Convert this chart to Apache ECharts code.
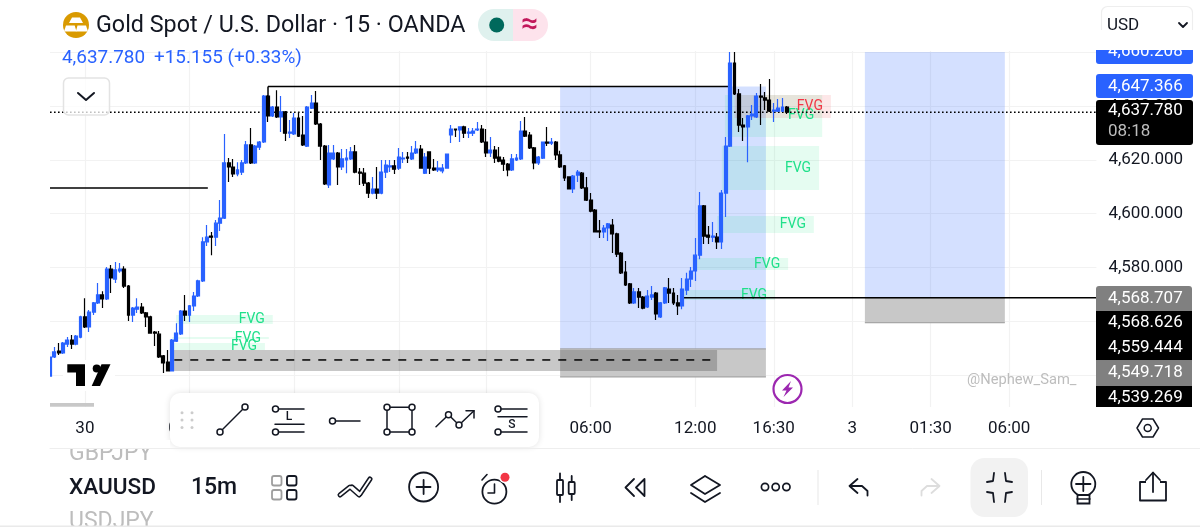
<!DOCTYPE html>
<html><head><meta charset="utf-8">
<style>html,body{margin:0;padding:0;background:#fff}#c{width:1200px;height:527px}</style>
<script src="https://cdn.jsdelivr.net/npm/echarts@6/dist/echarts.min.js"></script>
</head><body><div id="c"></div>
<script>
const opens=[4539.6,4546.7,4548.9,4548.2,4551.5,4553.0,4551.5,4554.1,4561.6,4557.9,4563.4,4566.8,4569.8,4568.3,4579.4,4575.7,4578.7,4579.4,4573.1,4562.3,4564.5,4565.3,4563.1,4561.6,4556.0,4555.2,4547.1,4544.8,4541.5,4552.6,4555.3,4563.8,4562.3,4565.7,4569.4,4575.0,4589.5,4591.7,4591.3,4596.5,4598.4,4618.9,4617.4,4614.8,4615.5,4618.9,4625.6,4618.9,4624.8,4626.7,4643.8,4636.4,4639.7,4636.0,4637.9,4630.0,4629.7,4635.6,4629.3,4625.2,4639.3,4641.2,4633.4,4625.2,4610.7,4620.4,4622.6,4617.4,4620.0,4620.4,4623.0,4615.5,4615.1,4611.4,4607.7,4609.2,4607.7,4615.5,4617.4,4617.8,4617.0,4620.4,4621.1,4620.4,4622.6,4624.1,4615.1,4623.0,4617.0,4616.3,4615.9,4617.0,4629.3,4631.5,4631.2,4632.3,4630.0,4630.0,4631.2,4631.5,4626.7,4622.6,4623.7,4621.1,4620.0,4618.5,4616.3,4620.0,4620.4,4630.8,4629.3,4624.5,4618.9,4620.7,4626.7,4626.3,4626.7,4621.9,4617.8,4613.7,4609.2,4614.4,4615.1,4609.6,4605.1,4601.4,4593.6,4593.2,4594.7,4595.8,4592.5,4585.4,4578.3,4573.9,4566.8,4570.9,4569.0,4565.3,4569.0,4570.5,4561.6,4566.8,4572.0,4570.5,4566.8,4565.7,4571.6,4575.7,4578.7,4584.6,4602.9,4592.1,4591.3,4591.3,4589.5,4607.7,4625.2,4656.1,4644.6,4633.0,4632.3,4636.4,4636.0,4643.8,4643.1,4642.3,4638.2,4638.2,4638.2,4639.7];
const closes=[4546.7,4548.6,4548.2,4551.9,4553.0,4551.5,4554.5,4561.6,4557.9,4563.4,4566.8,4569.8,4568.3,4579.4,4576.1,4579.1,4579.4,4573.1,4562.3,4564.9,4565.3,4563.1,4561.6,4555.6,4555.6,4546.7,4544.5,4541.5,4553.0,4555.6,4563.8,4562.3,4565.7,4569.4,4575.0,4589.5,4591.3,4591.3,4596.5,4598.4,4618.9,4617.4,4614.8,4616.3,4618.9,4625.6,4618.9,4625.2,4626.7,4643.8,4636.4,4639.7,4636.0,4637.9,4630.0,4630.4,4635.6,4628.9,4625.6,4639.7,4641.2,4633.4,4625.2,4611.1,4622.6,4622.6,4617.4,4620.4,4620.7,4623.0,4615.5,4615.1,4611.4,4607.7,4609.2,4607.7,4615.5,4618.1,4617.8,4616.6,4621.1,4620.7,4620.7,4622.6,4624.1,4617.0,4621.1,4617.0,4616.3,4617.0,4617.0,4622.2,4631.5,4631.2,4632.3,4630.0,4630.4,4630.8,4631.5,4626.7,4622.6,4623.7,4620.7,4619.6,4618.5,4616.3,4620.4,4620.7,4630.8,4628.9,4624.5,4618.9,4621.1,4626.7,4626.3,4626.7,4621.9,4617.4,4613.3,4609.2,4614.0,4615.5,4609.6,4605.1,4601.0,4593.2,4593.2,4594.7,4596.2,4592.5,4585.0,4578.0,4573.5,4566.8,4570.9,4569.0,4564.9,4569.4,4569.8,4562.7,4566.8,4572.4,4570.5,4566.8,4565.7,4572.0,4575.7,4578.7,4584.6,4602.9,4591.7,4591.3,4591.7,4589.5,4607.7,4625.2,4656.1,4644.6,4633.0,4632.3,4636.4,4637.1,4643.8,4643.4,4642.3,4638.2,4638.6,4639.3,4639.7,4637.8];
const lows=[4539.6,4546.3,4547.4,4547.8,4550.4,4549.7,4551.1,4553.7,4557.5,4556.0,4562.3,4566.4,4564.9,4567.9,4570.5,4574.2,4578.0,4572.4,4560.1,4559.7,4563.1,4562.7,4557.9,4555.6,4550.8,4546.3,4540.7,4541.5,4541.5,4552.3,4554.9,4560.1,4559.7,4563.8,4569.0,4574.6,4588.0,4584.6,4588.0,4593.6,4598.0,4611.8,4613.7,4614.0,4614.4,4618.5,4618.5,4618.5,4623.7,4626.3,4634.1,4636.0,4635.6,4630.4,4627.1,4628.2,4629.3,4628.6,4625.2,4624.8,4639.0,4633.0,4620.0,4610.7,4609.6,4620.0,4610.7,4616.3,4615.1,4620.0,4615.1,4610.7,4610.3,4605.9,4607.3,4605.5,4607.3,4613.3,4615.5,4614.8,4616.3,4618.9,4618.9,4620.0,4622.2,4617.0,4614.8,4614.8,4615.9,4615.5,4615.1,4617.0,4626.3,4628.6,4626.7,4628.2,4628.2,4628.9,4630.8,4626.3,4621.1,4621.1,4618.9,4619.2,4615.9,4614.0,4615.9,4619.6,4620.0,4628.6,4624.1,4616.6,4618.1,4620.4,4625.2,4625.6,4620.0,4617.0,4612.2,4609.2,4607.7,4611.8,4609.2,4604.7,4600.6,4593.2,4591.0,4591.0,4589.9,4585.4,4583.9,4577.6,4573.1,4566.4,4566.4,4564.9,4564.5,4564.9,4567.9,4560.5,4561.2,4566.4,4566.8,4566.0,4562.3,4564.5,4569.8,4572.7,4575.0,4583.1,4588.7,4588.7,4589.5,4586.9,4586.9,4598.8,4624.8,4644.2,4630.4,4627.1,4619.2,4634.9,4635.6,4633.0,4638.6,4637.9,4634.1,4637.9,4637.9,4637.1];
const highs=[4548.6,4550.4,4551.9,4552.3,4554.1,4554.9,4554.9,4562.0,4568.6,4564.2,4567.2,4574.2,4571.2,4580.2,4580.9,4582.0,4581.7,4580.5,4573.5,4565.3,4568.6,4566.8,4563.4,4562.0,4556.4,4556.4,4547.4,4549.3,4553.4,4559.3,4564.2,4569.8,4566.0,4570.9,4575.4,4591.3,4595.8,4593.2,4597.7,4605.1,4629.7,4620.7,4620.4,4619.2,4620.0,4627.1,4631.9,4625.6,4627.1,4644.2,4644.2,4640.1,4646.0,4643.8,4638.2,4634.9,4637.5,4637.9,4636.4,4640.1,4644.2,4645.7,4633.8,4625.6,4625.6,4625.6,4623.0,4624.1,4624.1,4624.8,4625.6,4617.0,4617.0,4611.8,4613.7,4617.4,4620.0,4620.0,4620.0,4620.0,4624.5,4623.0,4623.0,4625.2,4627.1,4625.6,4622.6,4623.0,4620.4,4619.6,4618.5,4622.2,4633.0,4631.5,4632.3,4632.7,4631.9,4631.9,4634.1,4633.0,4631.5,4628.6,4625.2,4624.8,4621.1,4618.9,4622.2,4622.2,4634.5,4636.0,4630.4,4624.8,4621.5,4626.7,4632.3,4628.2,4627.1,4623.4,4618.1,4614.0,4614.4,4616.3,4615.5,4613.7,4607.7,4601.8,4597.7,4595.8,4596.6,4598.0,4592.9,4585.8,4582.4,4574.2,4572.4,4572.4,4569.4,4571.6,4573.1,4570.9,4567.2,4572.7,4576.1,4572.4,4569.8,4576.1,4578.0,4580.2,4591.0,4608.1,4603.3,4595.4,4596.9,4592.8,4608.8,4628.6,4660.2,4660.2,4646.4,4635.6,4636.7,4640.5,4644.9,4648.3,4645.3,4650.1,4641.2,4642.7,4643.1,4640.1];

const tickIndexes=[8,32,56,80,100,124,148,166,184,202,220];
const tickLabels=['30','06:00','12:00','18:00','1','06:00','12:00','16:30','3','01:30','06:00'];
const axisPrices=[4540,4560,4580,4600,4620,4640,4660];

const blueZones=[[117,164.2,4647.366,4549.718],[186.9,219,4660.208,4568.707]];
const solidGreyZones=[[117,164.2,4549.718,4539.269],[186.9,219,4568.707,4559.444]];
const tintGreyZones=[[28,153,4549.3,4541.5]];
const fvgGreen=[[154.8,177.1,4644.2,4628.6],[154.1,176.4,4625.2,4608.8],[153,175.2,4599.2,4592.8],[148.4,169.3,4583.5,4579.1],[145.2,166.3,4571.6,4567.9],[28.9,51.1,4562.3,4559.0],[28,50.2,4554.1,4553.4],[28,49.3,4551.9,4549.3]];
const fvgRed=[[157,179.1,4644.2,4635.6]];
const solidLines=[[0,4609.6,36.2,4609.6],[50,4647.366,156,4647.366],[50,4647.366,50,4643.4],[144.5,4568.707,240,4568.707]];
const dashedLines=[[28.5,4545.6,153,4545.6]];
const dottedLines=[[0,4637.78,240,4637.78]];

const categories=Array.from({length:241},(_,i)=>{const k=tickIndexes.indexOf(i);return k<0?'':tickLabels[k];});
const candles=opens.map((o,i)=>[o,closes[i],lows[i],highs[i]]);

function zoneSeries(name,rows,fill,z,label,labelColor,edge){
  return {name,type:'custom',xAxisIndex:1,yAxisIndex:0,z,silent:true,clip:true,data:rows,
    encode:{x:[0,1],y:[2,3]},
    renderItem(p,api){
      const a=api.coord([api.value(0),api.value(2)]),b=api.coord([api.value(1),api.value(3)]);
      const kids=[{type:'rect',shape:{x:a[0],y:a[1],width:b[0]-a[0],height:b[1]-a[1]},style:{fill}}];
      if(edge){
        kids.push({type:'line',shape:{x1:a[0],y1:a[1],x2:b[0],y2:a[1]},style:{stroke:edge,lineWidth:1}});
        kids.push({type:'line',shape:{x1:a[0],y1:b[1],x2:b[0],y2:b[1]},style:{stroke:edge,lineWidth:1}});
      }
      if(label)kids.push({type:'text',z2:5,style:{text:label,x:b[0]-21,y:(a[1]+b[1])/2,fill:labelColor,font:'14px Roboto',align:'center',verticalAlign:'middle'}});
      return {type:'group',children:kids};
    }};
}
function lineSeries(name,rows,color,width,dash,z){
  return {name,type:'custom',xAxisIndex:1,yAxisIndex:0,z,silent:true,clip:true,data:rows,
    encode:{x:[0,2],y:[1,3]},
    renderItem(p,api){
      const a=api.coord([api.value(0),api.value(1)]),b=api.coord([api.value(2),api.value(3)]);
      return {type:'line',shape:{x1:a[0],y1:a[1],x2:b[0],y2:b[1]},style:{stroke:color,lineWidth:width,lineDash:dash}};
    }};
}

const INK='#131722',Z=100,g=[];
const R=(x,y,w,h,fill,r,stroke,lw,z)=>g.push({type:'rect',z:z||Z,shape:{x,y,width:w,height:h,r:r||0},style:{fill:fill||'none',stroke:stroke||null,lineWidth:lw||1}});
const C=(cx,cy,r,fill,stroke,lw,z)=>g.push({type:'circle',z:z||Z,shape:{cx,cy,r},style:{fill:fill||'none',stroke:stroke||null,lineWidth:lw||1}});
const P=(pts,stroke,lw,z)=>g.push({type:'polyline',z:z||Z,shape:{points:pts},style:{fill:'none',stroke:stroke||INK,lineWidth:lw||1.6,lineJoin:'round',lineCap:'round'}});
const G=(pts,fill,z)=>g.push({type:'polygon',z:z||Z,shape:{points:pts},style:{fill}});
const T=(text,x,y,size,fill,align,weight,z)=>g.push({type:'text',z:z||Z,style:{text,x,y,fill,font:(weight||400)+' '+size+'px Roboto',align:align||'left',verticalAlign:'middle'}});

// left edge of the plot
R(0,50,50,357,'#fff',0,null,1,Z-1);

// header
C(76,25,13,'#D99A00');
G([[72,17.5],[80,17.5],[83,23],[69,23]],'#fff');
G([[66,25.5],[74.7,25.5],[76.5,31.5],[64,31.5]],'#fff');
G([[77.5,25.5],[86,25.5],[88,31.5],[75.8,31.5]],'#fff');
T('Gold Spot / U.S. Dollar · 15 · OANDA',96,26.2,23.3,INK);
R(478,9,35,32,'#DFF1EE',[16,0,0,16]);
R(513,9,35,32,'#FDE3EC',[0,16,16,0]);
C(496.7,25,7.5,'#00695C');
T('≈',529.7,25,30,'#C2185B','center',500);
T('4,637.780',62,58.5,18.9,'#2962FF');
T('+15.155 (+0.33%)',154,58.5,18.9,'#2962FF');
R(63.5,78,46,37,'rgba(255,255,255,0.75)',5,'#E3E3E3',1.5);
P([[78,93],[86,100],[94,93]],INK,2);

// USD selector
R(1101.5,6.5,91,37,'#fff',6,'#EEEEEE',1.2);
T('USD',1107,26,17,INK);
P([[1179,23],[1183,27],[1187,23]],INK,1.8);

// price badges
R(1096,40,97,24,'#2962FF',3);
T('4,660.208',1108,52,17,'#fff');
R(1096,30,104,20,'#fff',0,null,1,Z+1);
R(1096,74,97,24,'#2962FF',3);
T('4,647.366',1108,86.5,17,'#fff');
R(1096,100,97,45,'#000',3);
T('4,637.780',1108,111,17,'#fff');
T('08:18',1108,131.5,17,'#bdbdbd');
R(1096,286,96,25,'#808080',[3,3,0,0]);
T('4,568.707',1108,298.7,17,'#fff');
R(1096,311,96,49.5,'#000');
T('4,568.626',1108,322.7,17,'#fff');
T('4,559.444',1108,347.7,17,'#fff');
R(1096,361,96,25,'#808080');
T('4,549.718',1108,372.7,17,'#fff');
R(1096,386,96,21,'#000');
T('4,539.269',1108,397.7,17,'#fff');

// logo, watermark, bolt
R(63,360,52,31,'#fff',0,null,1,Z-1);
G([[67.3,364.3],[85,364.3],[85,386],[76,386],[76,372.5],[67.3,372.5]],'#000');
C(96.7,368.5,4,'#000');
G([[110.5,364.3],[100,386],[91.7,386],[101.5,364.3]],'#000');
T('@Nephew_Sam_',967,380.5,14.7,'#BDBDBD');
C(787.5,389,14,'#fff','#9C27B0',2.2);
G([[791,381],[782,390.5],[786.5,390.5],[783.5,397],[793,387.5],[788.5,387.5]],'#9C27B0');

// slider
R(50,403,44,3.8,'#C8C8C8');

// axis hexagon
P([[1137,428],[1142.5,419],[1153,419],[1158.5,428],[1153,437],[1142.5,437],[1137,428]],INK,1.5);
C(1147.7,428,3.5,null,INK,1.5);

// drawing toolbar
R(170,393,369,54,'#fff',10,null,1);
g[g.length-1].style.shadowBlur=6;g[g.length-1].style.shadowColor='rgba(0,0,0,0.12)';
[182,192].forEach(x=>[412.7,420,427.5].forEach(y=>C(x,y,1.5,'#CCCCCC')));
P([[220,432],[245,407]],INK,1.5);C(220,432,3,'#fff',INK,1.5);C(245,407,3,'#fff',INK,1.5);
P([[275,409],[304,409]],INK,1.5);P([[275,424.3],[304,424.3]],INK,1.5);P([[275,432],[304,432]],INK,1.5);
C(275.5,409,3,'#fff',INK,1.5);C(275.5,432,3,'#fff',INK,1.5);T('L',289,417,12,INK,'center',500);
P([[333,421],[360,421]],INK,1.5);C(332.5,421,3,'#fff',INK,1.5);
R(387,407.3,25,24.7,null,0,INK,1.5);
[[387,407.3],[412,407.3],[387,432],[412,432]].forEach(c=>C(c[0],c[1],3,'#fff',INK,1.5));
P([[436,426.7],[448.5,414.7],[459,425],[474,410.7]],INK,1.5);P([[466,410.7],[474,410.7],[474,418]],INK,1.5);
C(448.5,414.7,3,'#fff',INK,1.5);C(459,425,3,'#fff',INK,1.5);
P([[498,409],[527,409]],INK,1.5);P([[498,416.7],[527,416.7]],INK,1.5);P([[498,432],[527,432]],INK,1.5);
C(498,409,3,'#fff',INK,1.5);C(498,432,3,'#fff',INK,1.5);T('S',512,424.5,12,INK,'center',500);

// bottom panel
R(0,449,1200,78,'#fff',0,null,1,Z-1);
T('GBPJPY',69,454,23,'#BDBDBD');
R(60,440,110,8,'#fff',0,null,1,Z);
P([[50,448.5],[1200,448.5]],'#EEEEEE',1);
T('XAUUSD',69,488,22.6,INK,'left',500);
T('15m',214,488,23,INK,'center',500);
T('USDJPY',69,522.5,23,'#BDBDBD');
R(0,525.5,1200,1.5,'#EAEAEA',0,null,1,Z+1);
R(272,476,9.5,9.5,null,2,'#9E9E9E',1.8);R(287,476,9.5,9.5,null,2,INK,1.8);
R(272,490,9.5,9.5,null,2,'#9E9E9E',1.8);R(287,490,9.5,9.5,null,2,INK,1.8);
P([[340,495],[350,487],[359,495]],INK,5);P([[352,487],[360,494],[370,479]],INK,5);
P([[340,495],[350,487],[359,495]],'#fff',2);P([[352,487],[360,494],[370,479]],'#fff',2);
C(423.6,487,14.5,null,INK,1.8);P([[416.5,487],[430.5,487]],INK,1.8);P([[423.6,480],[423.6,494]],INK,1.8);
C(494.4,491.7,12,null,INK,1.8);P([[494.5,484],[494.5,493],[488,493]],INK,1.6);P([[482,480],[487,474.5]],INK,1.6);
C(505,477.3,6,'#fff');C(505,477.3,4.5,'#F23645');
R(557,480,6,15,null,1,INK,1.8);P([[560,473.5],[560,480]],INK,1.8);P([[560,495],[560,502]],INK,1.8);
R(568.7,482,6,12,null,1,INK,1.8);P([[571.7,476],[571.7,482]],INK,1.8);P([[571.7,494],[571.7,500]],INK,1.8);
P([[634,479],[625.5,487.5],[634,496]],INK,1.8);P([[644.5,479],[636,487.5],[644.5,496],[644.5,479]],INK,1.8);
P([[705,476],[720,485],[705,494],[691,485],[705,476]],INK,1.8);P([[691,493],[705,502],[720,493]],INK,1.8);
[765,775.7,786.4].forEach(x=>C(x,487,3.6,null,INK,1.7));
R(817.5,470,1,35,'#E8E8E8');
P([[857.5,479],[849.5,486],[857.5,493]],INK,1.8);P([[850,486],[862,486],[867.5,491],[867.5,495.5]],INK,1.8);
P([[931.5,479],[939.5,486],[931.5,493]],'#DDDDDD',1.8);P([[939,486],[927,486],[921.5,491],[921.5,495.5]],'#DDDDDD',1.8);
R(970.5,458,57.5,59,'#F2F2F2',14);
P([[987,482],[993,481],[994,473]],INK,1.8);P([[1005,473],[1006,481],[1012,482]],INK,1.8);
P([[987,492],[993,493],[994,502]],INK,1.8);P([[1005,502],[1006,493],[1012,492]],INK,1.8);
R(1041,470,1,35,'#E8E8E8');
C(1083.3,484,12,null,INK,1.8);P([[1076,484],[1090.5,484]],INK,1.8);P([[1083.3,477],[1083.3,491]],INK,1.8);
R(1077.5,495,12,8.5,'#fff',0,INK,1.8);P([[1077,499],[1090,499]],INK,1.5);
g.push({type:'polyline',z:Z,shape:{points:[[1146,482],[1140,482],[1140,500.5],[1166,500.5],[1166,482],[1160,482]]},style:{fill:'none',stroke:INK,lineWidth:1.8,lineJoin:'round'}});
P([[1153,492],[1153,473]],INK,1.8);P([[1146,480],[1153,472.5],[1160,480]],INK,1.8);

const option={
  animation:false,backgroundColor:'#fff',
  textStyle:{fontFamily:'Roboto'},
  grid:{left:50,right:103.6,top:51,bottom:120,containLabel:false},
  xAxis:[
    {type:'category',data:categories,boundaryGap:false,axisLine:{show:false},axisTick:{show:false},
     axisLabel:{interval:0,color:INK,fontSize:17,fontFamily:'Roboto',margin:13,hideOverlap:false},
     splitLine:{show:true,interval:i=>tickIndexes.includes(i),lineStyle:{color:'#F2F2F2',width:1.2}}},
    {type:'value',show:false,min:0,max:240,splitLine:{show:false}}
  ],
  yAxis:{type:'value',position:'right',min:4528.09,max:4660.56,scale:true,axisLine:{show:false},
    axisTick:{show:false,customValues:axisPrices},
    axisLabel:{customValues:axisPrices,color:INK,fontSize:17,fontFamily:'Roboto',margin:12,
      formatter:v=>Number(v).toLocaleString('en-US',{minimumFractionDigits:3,maximumFractionDigits:3})},
    splitLine:{show:true,lineStyle:{color:'#F2F2F2',width:1.2}}},
  series:[
    zoneSeries('Zones',blueZones,'rgba(41,98,255,0.2)',1),
    zoneSeries('Solid grey',solidGreyZones,'#C8C8C8',1,null,null,'#9A9A9A'),
    zoneSeries('Tint grey',tintGreyZones,'rgba(52,52,52,0.27)',1),
    zoneSeries('FVG',fvgGreen,'rgba(0,230,118,0.1)',2,'FVG','#1FE08A'),
    zoneSeries('FVG red',fvgRed,'rgba(242,54,69,0.12)',2,'FVG','#F23645'),
    lineSeries('Lines',solidLines,'#000',1.5,null,3),
    lineSeries('Dashed',dashedLines,'#000',1.5,[8,8],3),
    lineSeries('Dotted',dottedLines,'#000',1.5,[1.6,2.4],3),
    {name:'XAUUSD',type:'candlestick',xAxisIndex:0,yAxisIndex:0,z:4,barWidth:3.4,data:candles,
     itemStyle:{color:'#2962FF',color0:'#000000',borderColor:'#2962FF',borderColor0:'#000000',borderWidth:1.2}}
  ],
  graphic:{elements:g}
};
echarts.init(document.getElementById('c'),null,{renderer:'canvas'}).setOption(option);
</script></body></html>
